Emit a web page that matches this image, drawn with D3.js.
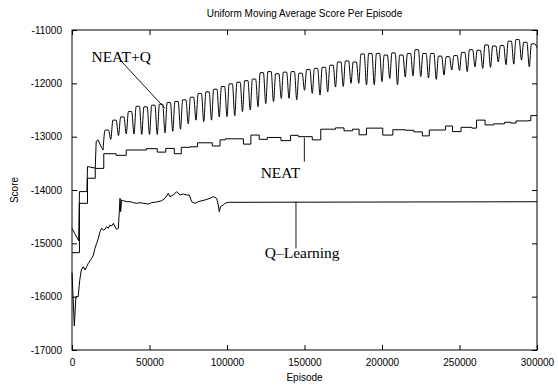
<!DOCTYPE html>
<html>
<head>
<meta charset="utf-8">
<script src="https://cdn.jsdelivr.net/npm/d3@7"></script>
<style>
  html, body { margin: 0; padding: 0; background: #fff; }
  svg { display: block; }
  .tick text { font-family: "Liberation Sans", Arial, sans-serif; font-size: 10px; fill: #000; }
</style>
</head>
<body>
<svg id="chart" width="558" height="387"></svg>
<script>
// ---------------- data ----------------
const title = "Uniform Moving Average Score Per Episode";
const xLabel = "Episode";
const yLabel = "Score";
const xTicks = [0, 50000, 100000, 150000, 200000, 250000, 300000];
const yTicks = [-17000, -16000, -15000, -14000, -13000, -12000, -11000];

// NEAT+Q: start-up segment, then per-cycle peaks and troughs (cycle = 5000 episodes from 20000)
const neatqEarlyEpisodes = [0, 4300, 4800, 9600, 10000, 15000, 15600, 16800, 19000, 20000];
const neatqEarlyScores = [-14720, -14950, -14030, -14030, -13560, -13590, -13090, -13060, -13200, -13250];
const neatqCycleStart = 20000;
const neatqCycleLength = 5000;
const neatqPeaks = [
  -12875, -12690, -12630, -12530, -12430, -12440, -12410, -12390, -12360, -12340,
  -12310, -12260, -12190, -12160, -12110, -12060, -12010, -11980, -11950, -11920,
  -11800, -11780, -11820, -11790, -11780, -11810, -11740, -11720, -11700, -11660,
  -11600, -11580, -11600, -11450, -11440, -11440, -11470, -11430, -11470, -11440,
  -11370, -11440, -11440, -11490, -11500, -11480, -11420, -11370, -11380, -11280,
  -11300, -11290, -11210, -11180, -11230, -11260
];
const neatqTroughs = [
  -13050, -12980, -12950, -12950, -12960, -12960, -12960, -12930, -12900, -12860,
  -12760, -12690, -12720, -12690, -12630, -12625, -12610, -12530, -12500, -12440,
  -12380, -12345, -12285, -12280, -12310, -12130, -12190, -12220, -12160, -12070,
  -12060, -12000, -12000, -12030, -12030, -11970, -11910, -12030, -11880, -11860,
  -11875, -11900, -11925, -11845, -11750, -11760, -11780, -11690, -11720, -11700,
  -11600, -11650, -11640, -11565, -11690, -11330
];

// NEAT: step function (episode where the value starts, value)
const neatEpisodes = [0, 4800, 10000, 15000, 20500, 28500, 35000, 48000, 55000, 60500,
  66000, 70500, 76000, 81000, 90500, 95500, 99000, 110600, 115400, 120800,
  126000, 134800, 141000, 146000, 155000, 160500, 170000, 175500, 181000, 185200,
  190000, 200500, 207000, 215000, 220500, 226000, 230500, 241000, 245500, 251000,
  258000, 261000, 266500, 272000, 279000, 283000, 286500, 294000, 296000, 300000];
const neatScores = [-15175, -14250, -13780, -13595, -13320, -13350, -13250, -13225, -13290, -13220,
  -13320, -13200, -13190, -13115, -13175, -13060, -13040, -13140, -12970, -13050,
  -13015, -13075, -12975, -13000, -13060, -12860, -12835, -12890, -12860, -12965,
  -12840, -12970, -12870, -12880, -12910, -12985, -12875, -12800, -12905, -12825,
  -12840, -12690, -12780, -12760, -12730, -12745, -12705, -12700, -12605, -12605];

// Q-Learning
const qEpisodes = [0, 1500, 2500, 4000, 5000, 6000, 7300, 8400, 9500, 10500,
  12700, 13800, 14800, 15900, 17000, 18100, 19100, 20200, 21300, 22400,
  23400, 24500, 25600, 26700, 27700, 28800, 29900, 31000, 31400, 32000,
  33100, 35300, 37400, 39600, 41700, 43900, 46000, 49200, 51400, 54600,
  57900, 60000, 62100, 63200, 65400, 67500, 69700, 71800, 74000, 75700,
  77200, 79400, 81500, 85800, 89000, 91200, 93300, 94400, 95000, 95900,
  97600, 98700, 100800, 300000];
const qScores = [-15550, -16550, -16000, -16000, -15690, -15500, -15437, -15500, -15437, -15375,
  -15281, -15219, -15094, -15000, -14906, -14781, -14719, -14750, -14737, -14687,
  -14719, -14656, -14675, -14625, -14687, -14737, -14719, -14156, -14406, -14187,
  -14200, -14219, -14219, -14237, -14250, -14237, -14250, -14262, -14237, -14225,
  -14200, -14156, -14062, -14125, -14094, -14031, -14094, -14075, -14094, -14094,
  -14219, -14250, -14219, -14187, -14156, -14125, -14156, -14281, -14406, -14312,
  -14281, -14250, -14231, -14220];

// Series labels (text position and leader line, in data coordinates)
const labelNames = ["NEAT+Q", "NEAT", "Q\u2013Learning"];
const labelEpisodes = [31750, 134500, 148500];
const labelScores = [-11594, -13775, -15275];
const leaderFrom = [[31000, -11560], [149900, -13019], [144500, -14219]];
const leaderTo = [[60000, -12470], [149900, -13469], [144500, -15094]];

// ---------------- drawing ----------------
const W = 558, H = 387;
const M = { left: 72, right: 537, top: 30, bottom: 350 };
const svg = d3.select("#chart");

const x = d3.scaleLinear().domain([0, 300000]).range([M.left, M.right]);
const y = d3.scaleLinear().domain([-17000, -11000]).range([M.bottom, M.top]);
const fmt = d => String(d);

// axes with inward ticks
svg.append("g").attr("transform", `translate(0,${M.bottom})`)
  .call(d3.axisBottom(x).tickValues(xTicks).tickFormat(fmt).tickSizeInner(-5).tickSizeOuter(0).tickPadding(9))
  .call(g => g.select(".domain").remove())
  .call(g => g.selectAll(".tick line").attr("stroke", "#000"));
svg.append("g").attr("transform", `translate(0,${M.top})`)
  .call(d3.axisTop(x).tickValues(xTicks).tickFormat("").tickSizeInner(-5).tickSizeOuter(0))
  .call(g => g.select(".domain").remove());
svg.append("g").attr("transform", `translate(${M.left},0)`)
  .call(d3.axisLeft(y).tickValues(yTicks).tickFormat(fmt).tickSizeInner(-5).tickSizeOuter(0).tickPadding(10))
  .call(g => g.select(".domain").remove());
svg.append("g").attr("transform", `translate(${M.right},0)`)
  .call(d3.axisRight(y).tickValues(yTicks).tickFormat("").tickSizeInner(-5).tickSizeOuter(0))
  .call(g => g.select(".domain").remove());

svg.selectAll(".tick line").attr("stroke", "#000").attr("stroke-width", 1);

// build NEAT+Q points
const neatqPoints = neatqEarlyEpisodes.map((e, i) => [e, neatqEarlyScores[i]]);
neatqPeaks.forEach((p, k) => {
  const base = neatqCycleStart + k * neatqCycleLength;
  neatqPoints.push([base + 1400, p]);
  neatqPoints.push([base + 3500, p]);
  neatqPoints.push([base + neatqCycleLength, neatqTroughs[k]]);
});
const neatPoints = neatEpisodes.map((e, i) => [e, neatScores[i]]);
const qPoints = qEpisodes.map((e, i) => [e, qScores[i]]);

const lineLinear = d3.line().x(d => x(d[0])).y(d => y(d[1]));
const lineSmooth = d3.line().x(d => x(d[0])).y(d => y(d[1])).curve(d3.curveMonotoneX);
const lineStep = d3.line().x(d => x(d[0])).y(d => y(d[1])).curve(d3.curveStepAfter);

const plot = svg.append("g");
plot.append("path").datum(neatqEarlyEpisodes.map((e, i) => [e, neatqEarlyScores[i]]))
  .attr("d", lineLinear).attr("fill", "none").attr("stroke", "#000").attr("stroke-width", 1);
plot.append("path").datum(neatqPoints.slice(neatqEarlyEpisodes.length - 1))
  .attr("d", lineSmooth).attr("fill", "none").attr("stroke", "#000").attr("stroke-width", 1);
plot.append("path").datum(neatPoints)
  .attr("d", lineStep).attr("fill", "none").attr("stroke", "#000").attr("stroke-width", 1);
plot.append("path").datum(qPoints)
  .attr("d", lineLinear).attr("fill", "none").attr("stroke", "#000").attr("stroke-width", 1);

// frame
svg.append("rect")
  .attr("x", M.left).attr("y", M.top)
  .attr("width", M.right - M.left).attr("height", M.bottom - M.top)
  .attr("fill", "none").attr("stroke", "#000").attr("stroke-width", 1);

// labels + leader lines
labelNames.forEach((name, i) => {
  svg.append("line")
    .attr("x1", x(leaderFrom[i][0])).attr("y1", y(leaderFrom[i][1]))
    .attr("x2", x(leaderTo[i][0])).attr("y2", y(leaderTo[i][1]))
    .attr("stroke", "#000").attr("stroke-width", 0.9);
  svg.append("text")
    .attr("x", x(labelEpisodes[i])).attr("y", y(labelScores[i]))
    .attr("text-anchor", "middle")
    .attr("font-family", "'Liberation Serif', 'Times New Roman', serif")
    .attr("font-size", 15.5).attr("fill", "#000")
    .text(name);
});

// titles
svg.append("text").attr("x", (M.left + M.right) / 2).attr("y", 16.5)
  .attr("text-anchor", "middle")
  .attr("font-family", "'Liberation Sans', Arial, sans-serif").attr("font-size", 10)
  .text(title);
svg.append("text").attr("x", (M.left + M.right) / 2).attr("y", 381)
  .attr("text-anchor", "middle")
  .attr("font-family", "'Liberation Sans', Arial, sans-serif").attr("font-size", 10)
  .text(xLabel);
svg.append("text")
  .attr("transform", `translate(18,${(M.top + M.bottom) / 2}) rotate(-90)`)
  .attr("text-anchor", "middle")
  .attr("font-family", "'Liberation Sans', Arial, sans-serif").attr("font-size", 10)
  .text(yLabel);
</script>
</body>
</html>
